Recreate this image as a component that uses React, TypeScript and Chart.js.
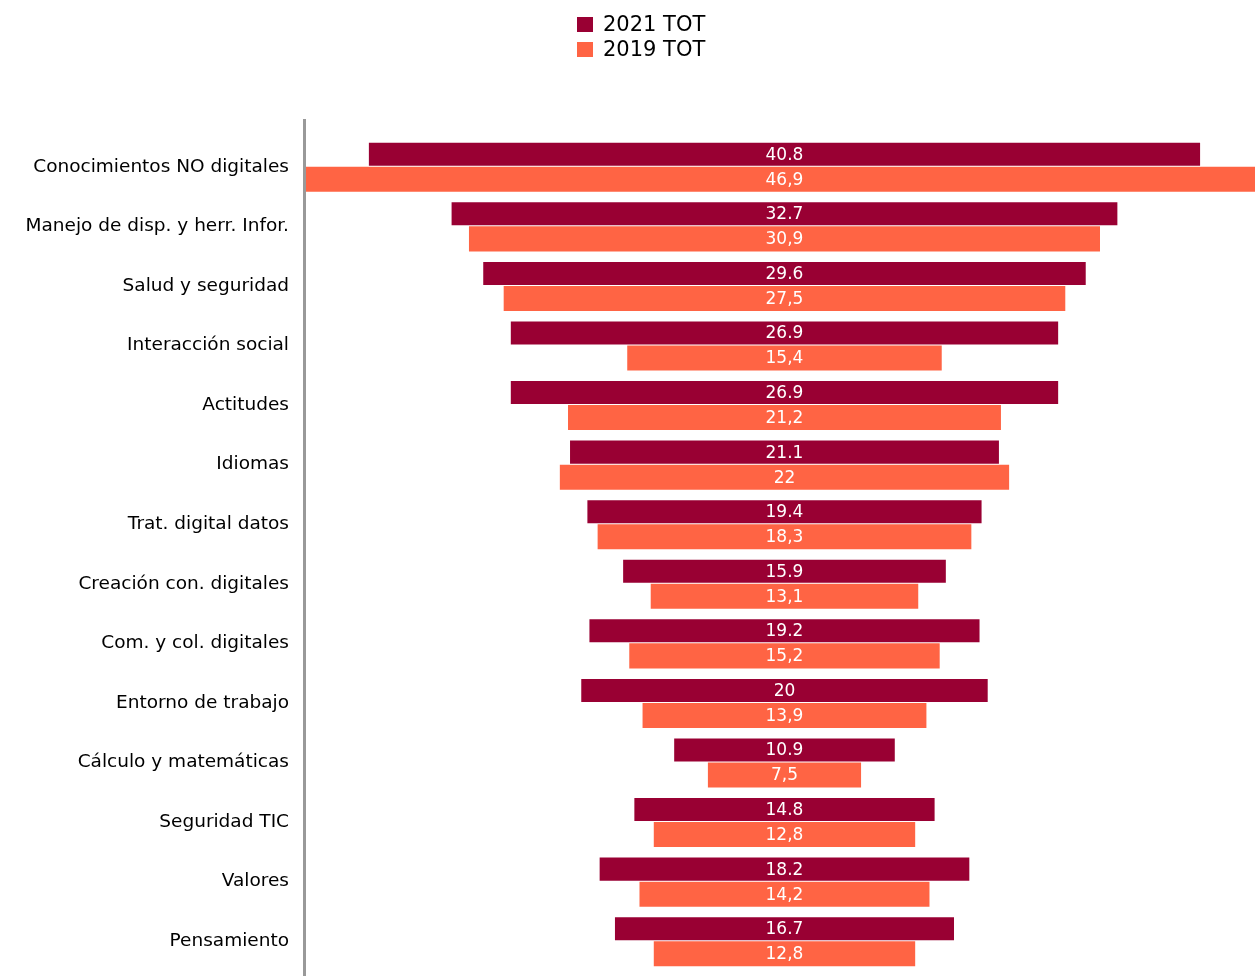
import React, { useEffect, useRef } from "react";
import { Chart, registerables } from "chart.js";

Chart.register(...registerables);

const categories = [
  "Conocimientos NO digitales",
  "Manejo de disp. y herr. Infor.",
  "Salud y seguridad",
  "Interacción social",
  "Actitudes",
  "Idiomas",
  "Trat. digital datos",
  "Creación con. digitales",
  "Com. y col. digitales",
  "Entorno de trabajo",
  "Cálculo y matemáticas",
  "Seguridad TIC",
  "Valores",
  "Pensamiento",
];

const values2021 = [40.8, 32.7, 29.6, 26.9, 26.9, 21.1, 19.4, 15.9, 19.2, 20, 10.9, 14.8, 18.2, 16.7];
const values2019 = [46.9, 30.9, 27.5, 15.4, 21.2, 22, 18.3, 13.1, 15.2, 13.9, 7.5, 12.8, 14.2, 12.8];
const labels2021 = ["40.8", "32.7", "29.6", "26.9", "26.9", "21.1", "19.4", "15.9", "19.2", "20", "10.9", "14.8", "18.2", "16.7"];
const labels2019 = ["46,9", "30,9", "27,5", "15,4", "21,2", "22", "18,3", "13,1", "15,2", "13,9", "7,5", "12,8", "14,2", "12,8"];
const seriesNames = ["2021 TOT", "2019 TOT"];
const seriesColors = ["#990033", "#FF6444"];

const FONT = "'DejaVu Sans', sans-serif";

const valueLabelPlugin = {
  id: "valueLabels",
  afterDatasetsDraw(chart: any) {
    const ctx = chart.ctx;
    const texts = [labels2021, labels2019];
    ctx.save();
    ctx.fillStyle = "#ffffff";
    ctx.font = `17px ${FONT}`;
    ctx.textAlign = "center";
    ctx.textBaseline = "middle";
    chart.data.datasets.forEach((ds: any, di: number) => {
      const meta = chart.getDatasetMeta(di);
      meta.data.forEach((el: any, i: number) => {
        const cx = (el.x + el.base) / 2;
        ctx.fillText(texts[di][i], cx, el.y + 1);
      });
    });
    ctx.restore();
  },
};

const axisLinePlugin = {
  id: "axisLine",
  afterDraw(chart: any) {
    const ctx = chart.ctx;
    const x = chart.chartArea.left - 1.5;
    ctx.save();
    ctx.strokeStyle = "#999999";
    ctx.lineWidth = 3;
    ctx.beginPath();
    ctx.moveTo(x, 119);
    ctx.lineTo(x, chart.height);
    ctx.stroke();
    ctx.restore();
  },
};

export default function App() {
  const ref = useRef<HTMLCanvasElement>(null);
  useEffect(() => {
    if (!ref.current) return;
    const chart = new Chart(ref.current, {
      type: "bar",
      data: {
        labels: categories,
        datasets: [
          {
            label: seriesNames[0],
            data: values2021.map((v) => [-v / 2, v / 2]),
            backgroundColor: seriesColors[0],
            borderColor: "rgba(255,255,255,0.25)",
            borderWidth: 1,
            borderSkipped: false,
          },
          {
            label: seriesNames[1],
            data: values2019.map((v) => [-v / 2, v / 2]),
            backgroundColor: seriesColors[1],
            borderWidth: 0,
          },
        ],
      },
      options: {
        indexAxis: "y",
        responsive: false,
        animation: false,
        maintainAspectRatio: false,
        layout: { padding: { left: 0, right: 0, top: 137, bottom: 5 } },
        datasets: { bar: { barPercentage: 1, categoryPercentage: 0.84 } },
        plugins: {
          legend: { display: false },
          tooltip: { enabled: false },
        },
        scales: {
          x: {
            display: false,
            min: -23.43,
            max: 23.04,
          },
          y: {
            grid: { display: false, drawTicks: false },
            border: { display: false },
            ticks: {
              color: "#000000",
              padding: 17,
              font: { family: FONT, size: 18.5 },
            },
            afterFit(scale: any) {
              scale.width = 306;
              scale.paddingTop = 0;
              scale.paddingBottom = 0;
            },
          },
        },
      },
      plugins: [valueLabelPlugin, axisLinePlugin],
    });
    return () => chart.destroy();
  }, []);

  return (
    <div style={{ position: "absolute", left: 0, top: 0, width: 1255, height: 976, background: "#fff" }}>
      <canvas ref={ref} width={1255} height={976} style={{ position: "absolute", left: 0, top: 0 }} />
      <div style={{ position: "absolute", left: 577, top: 12, fontFamily: FONT, fontSize: 21, color: "#000", lineHeight: "25px" }}>
        {seriesNames.map((n, i) => (
          <div key={n} style={{ display: "flex", alignItems: "center", height: 25 }}>
            <span style={{ display: "inline-block", width: 16, height: 15, background: seriesColors[i], marginRight: 10 }} />
            <span>{n}</span>
          </div>
        ))}
      </div>
    </div>
  );
}
